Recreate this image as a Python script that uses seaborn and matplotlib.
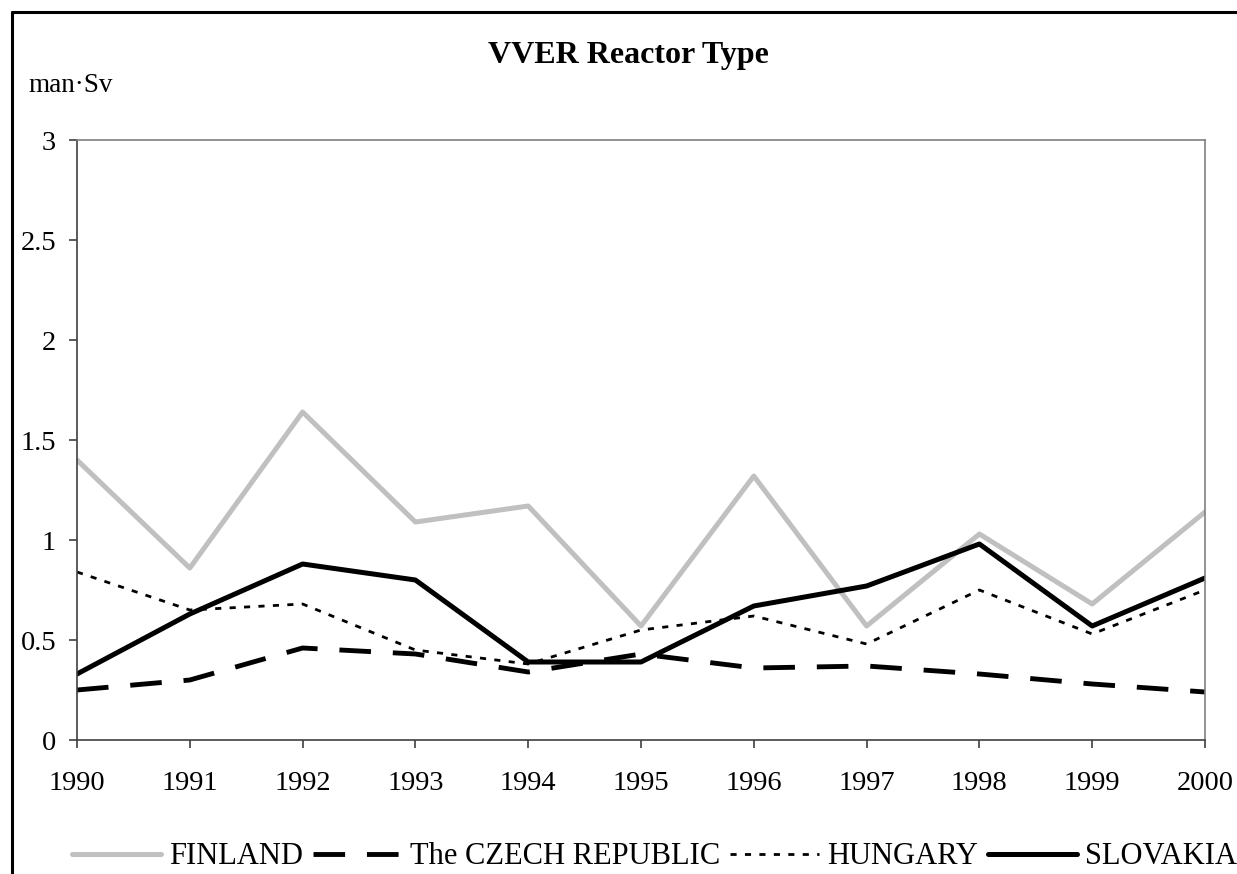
import matplotlib
matplotlib.use('Agg')
import matplotlib.pyplot as plt
import seaborn as sns
import pandas as pd
from matplotlib.lines import Line2D

years = [1990, 1991, 1992, 1993, 1994, 1995, 1996, 1997, 1998, 1999, 2000]
finland = [1.40, 0.86, 1.64, 1.09, 1.17, 0.57, 1.32, 0.57, 1.03, 0.68, 1.14]
czech = [0.25, 0.30, 0.46, 0.43, 0.34, 0.43, 0.36, 0.37, 0.33, 0.28, 0.24]
hungary = [0.84, 0.65, 0.68, 0.45, 0.38, 0.55, 0.62, 0.48, 0.75, 0.53, 0.75]
slovakia = [0.33, 0.63, 0.88, 0.80, 0.39, 0.39, 0.67, 0.77, 0.98, 0.57, 0.81]

series = [
    ('FINLAND', finland, '#C0C0C0', 3.6, '-'),
    ('The CZECH REPUBLIC', czech, 'black', 3.5, (0, (6.5, 4.5))),
    ('HUNGARY', hungary, 'black', 2.0, (0, (2.2, 3))),
    ('SLOVAKIA', slovakia, 'black', 3.6, '-'),
]

sns.set_style('white')
plt.rcParams['font.family'] = ['Liberation Serif', 'DejaVu Serif']
plt.rcParams['text.color'] = 'black'

W, H = 1237, 874
fig = plt.figure(figsize=(W / 100, H / 100), dpi=100)
ax = fig.add_axes([77 / W, 1 - 740 / H, 1128 / W, 600 / H])

for name, vals, color, lw, ls in series:
    df = pd.DataFrame({'year': years, 'value': vals})
    sns.lineplot(data=df, x='year', y='value', ax=ax, color=color,
                 linewidth=lw, linestyle=ls, label=name)

ax.set_xlim(1990, 2000)
ax.set_ylim(0, 3)
ax.set_xticks(years)
ax.set_xticklabels([str(y) for y in years])
ax.set_yticks([0, 0.5, 1, 1.5, 2, 2.5, 3])
ax.set_yticklabels(['0', '0.5', '1', '1.5', '2', '2.5', '3'])
ax.tick_params(axis='both', labelsize=20.5, length=6, width=1.2, direction='out',
               color='#404040', labelcolor='black', bottom=True, left=True)
ax.tick_params(axis='x', pad=16)
ax.tick_params(axis='y', pad=9)
ax.set_xlabel('')
ax.set_ylabel('')
for side in ['top', 'right']:
    ax.spines[side].set_color('#808080')
    ax.spines[side].set_linewidth(1.2)
for side in ['left', 'bottom']:
    ax.spines[side].set_color('#404040')
    ax.spines[side].set_linewidth(1.2)

ax.legend_.remove()
handles, labels = ax.get_legend_handles_labels()
fig.legend(handles, labels, loc='center', bbox_to_anchor=(0.529, 1 - 857 / H),
           ncol=4, frameon=False, fontsize=22, handlelength=2.9,
           handletextpad=0.27, columnspacing=0.33, borderpad=0, borderaxespad=0,
           labelcolor='black')

fig.text(628 / W, 1 - 56 / H, 'VVER Reactor Type', ha='center', va='center',
         fontsize=23, fontweight='bold', color='black')
fig.text(28 / W, 1 - 86 / H, 'man·Sv', ha='left', va='center', fontsize=19.5,
         color='black')

# outer chart border, only left and top edges fall inside the picture
fig.add_artist(Line2D([12 / W, 12 / W], [0, 1 - 12 / H], transform=fig.transFigure,
                      color='black', linewidth=2.2))
fig.add_artist(Line2D([12 / W, 1.0], [1 - 12 / H, 1 - 12 / H], transform=fig.transFigure,
                      color='black', linewidth=2.2))

fig.savefig('out.png', dpi=100)
